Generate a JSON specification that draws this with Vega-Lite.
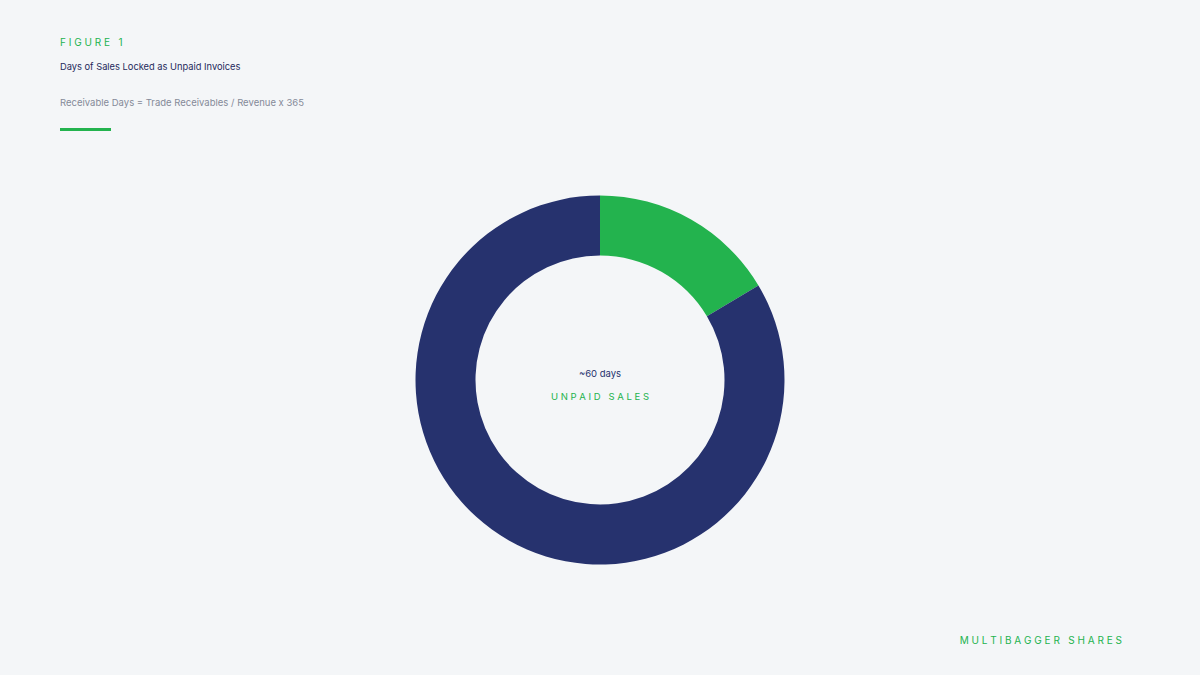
{
  "$schema": "https://vega.github.io/schema/vega-lite/v6.json",
  "width": 1200,
  "height": 590,
  "autosize": {"type": "none"},
  "padding": {"top": 85, "left": 0, "right": 0, "bottom": 0},
  "background": "#f4f6f8",
  "config": {
    "font": "Inter",
    "view": {"stroke": null}
  },
  "layer": [
    {
      "data": {
        "values": [
          {"part": "Unpaid sales", "days": 60},
          {"part": "Rest of the year", "days": 305}
        ]
      },
      "mark": {"type": "arc", "outerRadius": 184.5, "innerRadius": 124.5},
      "encoding": {
        "theta": {"field": "days", "type": "quantitative", "stack": true},
        "order": {"field": "days", "sort": "ascending"},
        "color": {
          "field": "part",
          "type": "nominal",
          "scale": {"domain": ["Unpaid sales", "Rest of the year"], "range": ["#23b34e", "#26326e"]},
          "legend": null
        }
      }
    },
    {
      "data": {"values": [{"label": "~60 days"}]},
      "mark": {"type": "text", "fontSize": 9.5, "color": "#26326e", "baseline": "alphabetic", "dy": -3},
      "encoding": {"text": {"field": "label"}}
    },
    {
      "data": {"values": [{"label": "U N P A I D\u00a0\u00a0 S A L E S"}]},
      "mark": {"type": "text", "fontSize": 9.5, "color": "#23b34e", "baseline": "alphabetic", "dy": 20},
      "encoding": {"text": {"field": "label"}}
    },
    {
      "data": {"values": [{"label": "F I G U R E\u00a0\u00a0 1"}]},
      "mark": {"type": "text", "fontSize": 10, "color": "#23b34e", "align": "left", "baseline": "alphabetic"},
      "encoding": {"text": {"field": "label"}, "x": {"value": 60}, "y": {"value": -39}}
    },
    {
      "data": {"values": [{"label": "Days of Sales Locked as Unpaid Invoices"}]},
      "mark": {"type": "text", "fontSize": 9.3, "color": "#1f2a5c", "align": "left", "baseline": "alphabetic"},
      "encoding": {"text": {"field": "label"}, "x": {"value": 60}, "y": {"value": -15}}
    },
    {
      "data": {"values": [{"label": "Receivable Days = Trade Receivables / Revenue x 365"}]},
      "mark": {"type": "text", "fontSize": 9.5, "color": "#858a98", "align": "left", "baseline": "alphabetic"},
      "encoding": {"text": {"field": "label"}, "x": {"value": 60}, "y": {"value": 21}}
    },
    {
      "data": {"values": [{"label": "accent"}]},
      "mark": {"type": "rect", "color": "#23b34e"},
      "encoding": {"x": {"value": 60}, "x2": {"value": 111}, "y": {"value": 43}, "y2": {"value": 46}}
    },
    {
      "data": {"values": [{"label": "M U L T I B A G G E R\u00a0\u00a0 S H A R E S"}]},
      "mark": {"type": "text", "fontSize": 10, "color": "#23b34e", "align": "right", "baseline": "alphabetic"},
      "encoding": {"text": {"field": "label"}, "x": {"value": 1122}, "y": {"value": 559}}
    }
  ]
}
